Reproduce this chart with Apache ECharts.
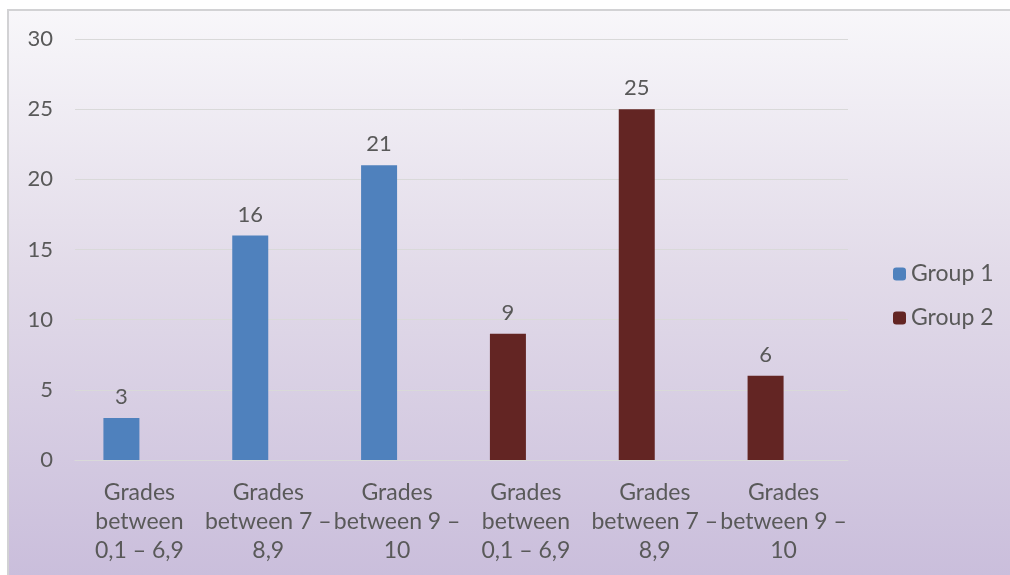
<!DOCTYPE html>
<html>
<head>
<meta charset="utf-8">
<style>
  html, body { margin: 0; padding: 0; background: #ffffff; }
  #chart { width: 1010px; height: 575px; }
</style>
<script src="https://cdn.jsdelivr.net/npm/echarts@6/dist/echarts.min.js"></script>
</head>
<body>
<div id="chart"></div>
<script>
// Grade bands shown along the x axis (three per group)
const categories = [
  'Grades\nbetween\n0,1 – 6,9',
  'Grades\nbetween 7 –\n8,9',
  'Grades\nbetween 9 –\n10',
  'Grades\nbetween\n0,1 – 6,9',
  'Grades\nbetween 7 –\n8,9',
  'Grades\nbetween 9 –\n10'
];
const group1 = [3, 16, 21, null, null, null];
const group2 = [null, null, null, 9, 25, 6];
const yTicks = { min: 0, max: 30, interval: 5 };

const textColor = '#595959';
const fontFamily = 'Lato, "Open Sans", sans-serif';

const chart = echarts.init(document.getElementById('chart'), null, { renderer: 'canvas' });

const valueLabel = {
  show: true,
  position: 'top',
  distance: 10,
  color: textColor,
  fontSize: 22,
  fontFamily: fontFamily
};

chart.setOption({
  animation: false,
  graphic: [
    {
      type: 'rect',
      z: -10,
      shape: { x: 8, y: 10, width: 1010, height: 575 },
      style: {
        fill: new echarts.graphic.LinearGradient(0, 0, 0, 1, [
          { offset: 0, color: '#f8f7fa' },
          { offset: 0.45, color: '#e2dbe9' },
          { offset: 1, color: '#c9bddb' }
        ]),
        stroke: '#d2d2d4',
        lineWidth: 2
      }
    }
  ],
  grid: { left: 75, right: 162, top: 39, bottom: 115 },
  legend: {
    orient: 'vertical',
    left: 893,
    top: 262,
    padding: 0,
    itemWidth: 13,
    itemHeight: 13,
    itemGap: 20,
    data: ['Group 1', 'Group 2'],
    textStyle: { color: textColor, fontSize: 23, fontFamily: fontFamily, lineHeight: 24 }
  },
  xAxis: {
    type: 'category',
    data: categories,
    axisLine: { lineStyle: { color: '#d9d9d9', width: 1 } },
    axisTick: { show: false },
    axisLabel: {
      interval: 0,
      margin: 18,
      color: textColor,
      fontSize: 23,
      lineHeight: 29,
      fontFamily: fontFamily
    }
  },
  yAxis: {
    type: 'value',
    min: yTicks.min,
    max: yTicks.max,
    interval: yTicks.interval,
    axisLine: { show: false },
    axisTick: { show: false },
    splitLine: { lineStyle: { color: '#d9d9d9', width: 1 } },
    axisLabel: { margin: 22, color: textColor, fontSize: 22, fontFamily: fontFamily }
  },
  series: [
    {
      name: 'Group 1',
      type: 'bar',
      stack: 'groups',
      data: group1,
      barWidth: 36,
      barGap: '0%',
      itemStyle: { color: '#4f81bd' },
      label: valueLabel
    },
    {
      name: 'Group 2',
      type: 'bar',
      stack: 'groups',
      data: group2,
      barWidth: 36,
      barGap: '0%',
      itemStyle: { color: '#632523' },
      label: valueLabel
    },
    {
      // empty companion slot to the right of each bar
      name: 'slot',
      type: 'bar',
      stack: 'slot',
      data: [null, null, null, null, null, null],
      barWidth: 36,
      barGap: '0%',
      silent: true
    }
  ]
});
</script>
</body>
</html>
